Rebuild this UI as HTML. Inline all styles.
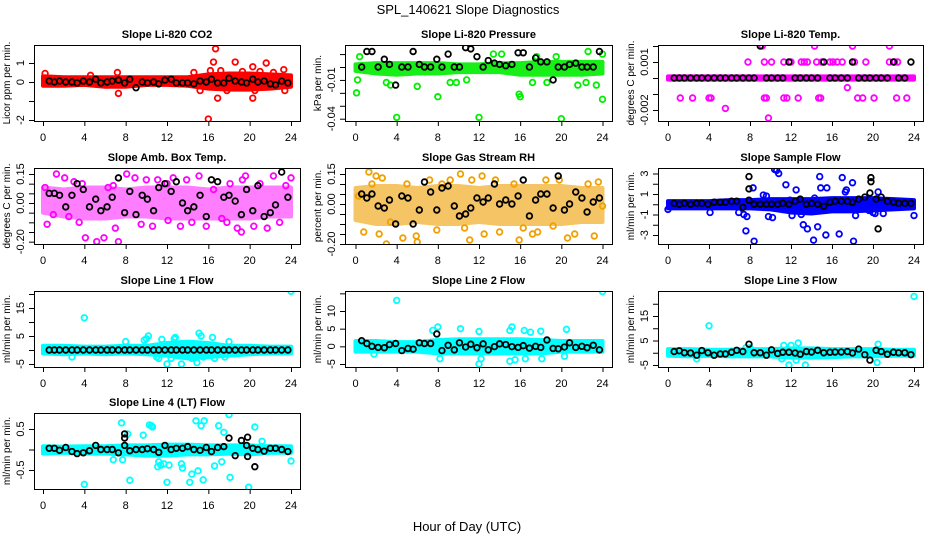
<!DOCTYPE html>
<html><head><meta charset="utf-8"><style>
html,body{margin:0;padding:0;background:#fff;}
svg{display:block;font-family:"Liberation Sans",Arial,sans-serif;}
</style></head>
<body>
<svg id="chart" width="936" height="540" viewBox="0 0 936 540" xmlns="http://www.w3.org/2000/svg">
<rect width="936" height="540" fill="#fff"/>
<text x="468" y="14" text-anchor="middle" font-size="13">SPL_140621  Slope Diagnostics</text>
<text x="467" y="531" text-anchor="middle" font-size="13">Hour of Day (UTC)</text>
<g id="panels"></g>
</svg>
<script>
const bandHours = [0,2,4,6,8,10,12,14,16,18,20,22,24];
const sampleHours = [0.6,1.1,1.6,2.2,2.8,3.3,3.9,4.5,5.1,5.6,6.2,6.7,7.3,7.9,8.4,9.0,9.6,10.1,10.7,11.2,11.8,12.4,12.9,13.5,14.0,14.6,15.2,15.8,16.3,16.9,17.5,18.0,18.6,19.2,19.7,20.3,20.8,21.4,22.0,22.5,23.1,23.7];
const xTicks = [0,4,8,12,16,20,24];

// CO2
const co2BandHi = [0.3,0.25,0.25,0.25,0.25,0.25,0.25,0.25,0.4,0.45,0.45,0.4,0.35];
const co2BandLo = [-0.2,-0.2,-0.15,-0.25,-0.25,-0.15,-0.15,-0.2,-0.35,-0.4,-0.4,-0.35,-0.25];
const co2OutX = [16.7,16.5,18.6,21.6,16.9,16.0,20.3,7.3,20.5,17.8,23.4,15.2,4.6,20.3,23.3,16.2,17.2,0.2,7.2,14.6,19.3,21.0,22.3];
const co2OutY = [1.75,1.05,1.05,1.0,-0.85,-1.95,-0.85,-0.6,-0.45,-0.45,-0.45,-0.45,0.35,0.8,0.65,0.6,0.6,0.45,0.5,0.5,0.55,0.55,0.5];
const co2Black = [0.05,0.0,0.05,0.0,0.0,-0.05,0.05,0.0,0.15,-0.05,0.0,0.05,0.1,-0.05,0.15,-0.3,0.0,-0.05,0.0,-0.1,0.1,0.15,-0.05,-0.05,-0.05,-0.1,0.05,0.0,0.15,-0.05,-0.05,0.2,0.05,0.0,-0.05,0.15,0.0,0.05,-0.1,-0.15,0.05,-0.05];

// Pressure
const presBandHi = [0.002,0.003,0.003,0.003,0.003,0.002,0.002,0.003,0.003,0.004,0.004,0.004,0.004];
const presBandLo = [-0.003,-0.005,-0.006,-0.005,-0.005,-0.004,-0.004,-0.004,-0.006,-0.006,-0.006,-0.006,-0.005];
const presOutX = [0.1,0.2,0.4,4.0,12.0,20.0,8.0,15.9,16.0,24.0,6.0,21.6,23.4,22.4,13.4,14.2,22.6,3.0,3.4,9.2,9.8,10.8,17.2,18.6,19.5,17.6,24.0];
const presOutY = [-0.02,-0.01,0.008,-0.039,-0.039,-0.04,-0.023,-0.021,-0.023,-0.025,-0.015,-0.014,-0.014,-0.012,0.010,0.010,0.012,-0.012,-0.014,-0.012,-0.012,-0.010,-0.012,-0.012,0.008,0.008,0.01];
const presBlack = [0,0.012,0.012,0,0.006,0.002,-0.014,0,0,0.012,0.002,0,0,0.006,0,0.010,0,0,0.015,0.014,0.008,0,0.005,0.003,0.002,0.001,0.002,0.011,0.011,0,0.007,0.004,0.004,-0.010,0,0,0.002,0.003,0,0,0,0.012];

// Li-820 Temp
const tempBandHi = [0.0001,0.0001,0.0001,0.0001,0.0001,0.0001,0.0001,0.0001,0.0001,0.0001,0.0001,0.0001,0.0001];
const tempBandLo = [-0.0001,-0.0001,-0.0001,-0.0001,-0.0001,-0.0001,-0.0001,-0.0001,-0.0001,-0.0001,-0.0001,-0.0001,-0.0001];
const tempOutX = [9.2,14.3,18.0,21.6,7.8,9.4,10.1,11.3,12.0,13.0,13.3,13.6,14.5,15.0,15.8,16.1,16.5,17.0,18.2,19.3,21.6,22.1,22.4,17.5,1.2,2.4,4.0,4.2,9.4,9.6,11.3,11.6,12.7,14.7,14.9,18.5,19.0,20.1,22.3,23.3,5.6,9.8];
const tempOutY = [0.002,0.002,0.002,0.002,0.001,0.001,0.001,0.001,0.001,0.001,0.001,0.001,0.001,0.001,0.001,0.001,0.001,0.001,0.001,0.001,0.001,0.001,0.001,-0.0006,-0.00125,-0.00125,-0.00125,-0.00125,-0.00125,-0.00125,-0.00125,-0.00125,-0.00125,-0.00125,-0.00125,-0.00125,-0.00125,-0.00125,-0.00125,-0.00125,-0.0019,-0.0025];
const tempBlack = [0,0,0,0,0,0,0,0,0,0,0,0,0,0,0,0.002,0,0,0,0,0.001,0,0,0,0,0,0.001,0,0,0,0,0.001,0,0,0,0,0,0,0.001,0,0,0.001];

// Amb box temp
const ambBandHi = [0.08,0.07,0.08,0.08,0.07,0.08,0.08,0.08,0.07,0.08,0.08,0.08,0.08];
const ambBandLo = [-0.05,-0.07,-0.08,-0.08,-0.07,-0.07,-0.08,-0.08,-0.08,-0.08,-0.08,-0.07,-0.07];
const ambOutX = [0.2,0.4,1.3,2.1,2.5,3.0,3.5,3.8,4.1,5.2,5.9,6.3,7.0,7.3,8.1,8.9,9.5,10.0,10.6,11.1,12.1,12.6,13.3,13.9,14.4,15.1,15.8,16.5,17.3,18.1,18.8,19.2,19.6,20.4,21.0,21.7,22.3,22.9,23.5,24.0,1.0,6.8,12.0,17.8,19.3];
const ambOutY = [0.08,-0.11,0.15,0.13,-0.07,0.11,-0.10,0.10,-0.18,-0.2,-0.18,0.08,-0.13,-0.20,0.15,0.13,-0.11,0.12,-0.12,0.12,-0.09,0.13,-0.12,0.12,-0.10,0.14,-0.12,0.07,-0.08,0.10,-0.13,-0.15,0.14,-0.12,0.10,-0.13,0.14,-0.10,0.09,0.13,-0.06,0.09,0.10,-0.10,0.12];
const ambBlack = [0.05,0.05,0.04,-0.02,0.04,0.10,0.07,-0.02,0.02,-0.04,-0.02,0.03,0.13,-0.05,0.06,-0.06,0.04,0.02,-0.04,0.08,0.10,0.06,0.11,0.0,-0.04,-0.02,0.04,-0.07,0.12,0.11,0.03,0.04,0.01,-0.06,0.07,-0.04,0.09,-0.07,-0.05,-0.01,0.16,0.03];

// Gas stream RH
const rhBandHi = [0.08,0.09,0.09,0.08,0.09,0.09,0.08,0.09,0.09,0.09,0.09,0.08,0.08];
const rhBandLo = [-0.08,-0.1,-0.1,-0.09,-0.1,-0.1,-0.09,-0.1,-0.1,-0.1,-0.1,-0.09,-0.09];
const rhOutX = [0.3,0.8,1.3,1.6,2.0,2.3,2.6,3.0,3.4,4.6,5.0,5.9,6.0,7.2,7.9,8.4,9.2,10.2,10.6,11.1,11.3,12.3,12.5,13.6,14.0,15.4,15.9,16.3,17.2,17.7,18.5,19.2,19.8,20.6,21.3,22.6,23.2,23.6,24.0];
const rhOutY = [0.04,-0.14,0.16,0.10,0.14,-0.15,0.13,-0.20,-0.09,-0.17,0.10,-0.16,-0.19,0.12,-0.13,0.10,0.12,0.15,-0.12,-0.18,0.12,0.14,-0.15,0.12,-0.14,0.10,-0.18,-0.12,-0.15,-0.14,0.12,-0.11,0.12,-0.17,-0.15,0.10,-0.16,0.11,-0.01];
const rhBlack = [0.05,0.03,0.05,-0.01,-0.02,0.02,-0.10,0.04,0.03,-0.10,-0.03,0.11,0.06,-0.03,0.08,0.09,-0.01,-0.06,-0.05,-0.02,0.03,0.01,0.03,0.1,0.0,0.02,0.0,0.04,0.12,-0.06,0.02,0.05,0.05,-0.02,0.14,-0.03,0.0,0.06,0.03,-0.04,0.01,0.03];

// Sample flow
const sfBandHi = [0.3,0.3,0.3,0.4,0.4,0.5,0.5,0.5,0.6,0.6,0.6,0.5,0.4];
const sfBandLo = [-0.4,-0.4,-0.4,-0.4,-0.4,-0.5,-0.8,-0.9,-0.7,-0.7,-0.6,-0.5,-0.4];
const sfOutX = [7.6,7.7,8.3,8.4,9.3,9.6,10.4,10.6,10.8,11.2,11.4,11.5,11.9,12.5,13.0,13.2,13.6,14.2,14.3,14.6,14.8,14.9,15.4,15.5,15.9,16.7,17.0,17.3,17.4,18.0,18.1,18.3,19.6,20.0,20.2,20.5,21.0,24.0,0.0,4.1,6.9,7.4,9.8,10.2,12.1];
const sfOutY = [-2.6,-1.2,1.6,-3.6,0.9,0.8,3.4,3.3,3.0,-0.5,-0.4,1.9,0.4,1.4,-1.0,-2.0,-2.4,-3.5,0.6,-2.2,2.7,1.6,-3.0,1.6,-0.5,-2.9,2.6,1.2,1.4,2.1,-3.6,-1.1,-0.6,-0.8,-0.9,1.2,-0.9,-1.1,-0.5,-0.8,-0.8,-1.0,-1.2,-1.3,-1.1];
const sfBlack = [0.1,0.0,0.1,0.0,0.1,0.1,0.0,0.2,0.2,0.2,0.3,0.3,-0.3,0.4,0.0,0.0,0.0,0.0,0.0,0.1,0.0,0.3,0.5,0.0,0.1,0.0,-0.2,0.2,0.3,0.3,0.3,0.2,0.5,0.7,1.1,0.5,0.7,0.3,0.2,0.1,0.1,0.1];
const sfBlackExX = [7.9,7.9,19.8,19.8,20.5];
const sfBlackExY = [2.7,1.5,2.6,2.2,-2.4];

// Line 1
const l1BandHi = [1.5,1.5,1.2,1.2,1.5,1.5,2.5,3,2.5,1.5,1.5,1.2,1.2];
const l1BandLo = [-1.2,-1.5,-1.2,-1.5,-1.2,-1.5,-2.0,-3,-2.5,-2,-1.5,-1.2,-1.2];
const l1OutX = [24.0,4.0,15.1,15.3,10.2,10.0,9.8,12.8,11.5,8.0,16.4,12.0,13.4,14.9,11.2,11.0,12.4,14.4,16.6,2.8,17.6,13.1,15.5,18.0,12.7];
const l1OutY = [21,11.5,6,5,5,4,3.5,4.5,3.8,3,4.5,-5,-5,-4.5,-3,-2.5,-3,-3,-3,-2.5,-2.5,-2,-2.5,3,4];
const l1Black = [0,0,0,0,0,0,0,0,0,0,0,0,0,0,0,0,0,0,0,0,0,0,0,0,0,0,0,0,0,0,0,0,0,0,0,0,0,0,0,0,0,0];

// Line 2
const l2BandHi = [1.5,1.5,1.2,1.2,1.8,2.0,2.0,2,2,1.8,1.5,1.5,1.5];
const l2BandLo = [-1.5,-1.5,-1.5,-1.5,-2,-2,-2,-2,-2,-2,-1.5,-1.5,-1.5];
const l2OutX = [24.0,4.0,8.0,7.5,10.2,12.0,15.2,15.0,16.4,17.0,18.0,20.5,8.2,12.2,12.0,15.0,15.5,18.1,16.5,1.8,20.3];
const l2OutY = [15.5,13,5.5,4.5,5,4.2,5.5,4.5,4.5,4,4.3,4.8,-3.5,-3.5,-5,-4.2,-3.8,-3.5,-3.5,-2.2,-2.8];
const l2Black = [1.6,0.8,0,-0.3,-0.4,0.5,0.8,-1.2,-0.6,-0.8,1.0,0.8,0.8,3.5,-1.2,0.3,-1.0,1.0,-0.2,0.6,-0.4,0.7,-1.0,-0.1,0.7,0.5,-0.1,-0.3,0.2,-0.5,0.0,-0.3,1.8,-0.6,-0.7,-0.2,1.0,-0.3,0.0,-0.4,0.3,-1.0];

// Line 3
const l3BandHi = [1.5,1.5,1.2,1.2,1.5,1.5,1.8,1.8,1.5,1.5,1.5,1.2,1.2];
const l3BandLo = [-1.2,-1.5,-1.2,-1.5,-1.5,-1.5,-2.0,-2,-1.8,-1.5,-1.5,-1.2,-1.2];
const l3OutX = [24.0,4.0,20.5,12.7,11.3,12.0,8.0,20.4,11.8,13.4,2.8,11.1,12.5,7.6];
const l3OutY = [23,11,3.5,4,3,3,2,-4,-5,-5,-2.5,-2.5,-3,2];
const l3Black = [0.5,0.8,0,-0.1,-1,0.9,0,-1,-0.5,-0.5,0.2,1.0,0.5,3.5,0,0,-1,1.2,-0.3,0.2,0.2,-0.1,-0.6,0.5,0.3,1.0,0,0.2,0.3,0.3,0.5,-0.1,1.5,-0.8,-3,1,0.5,-0.6,0.2,0,0,-0.8];

// Line 4
const l4BandHi = [0.08,0.07,0.08,0.08,0.1,0.1,0.12,0.12,0.1,0.1,0.1,0.08,0.08];
const l4BandLo = [-0.1,-0.08,-0.1,-0.1,-0.12,-0.15,-0.15,-0.12,-0.12,-0.1,-0.12,-0.08,-0.08];
const l4OutX = [4.0,7.6,7.7,8.4,8.2,9.7,10.3,10.5,10.6,11.2,11.4,11.7,12.0,12.2,13.4,13.5,14.2,14.4,14.8,15.0,15.3,15.5,15.6,16.6,17.0,17.3,17.5,18.0,18.1,19.9,20.5,24.0,6.8,11.1,21.2];
const l4OutY = [-0.85,0.65,-0.25,-0.75,0.38,0.35,0.6,0.58,0.55,-0.3,-0.38,-0.35,-0.8,-0.38,-0.35,-0.45,-0.8,-0.6,0.7,-0.52,0.58,-0.74,0.7,-0.4,0.58,-0.3,0.42,0.85,-0.68,-0.92,0.55,-0.28,-0.25,-0.42,0.2];
const l4Black = [0.03,0.03,-0.02,0.05,-0.05,-0.1,-0.08,-0.03,0.1,0.0,0.0,0.0,-0.08,0.1,-0.03,0.0,0.0,0.02,0.0,-0.07,0.1,0.0,0.03,0.03,0.07,0.0,-0.02,0.05,-0.05,0.05,0.07,0.28,-0.15,0.22,0.1,0.03,0.0,-0.04,0.03,0.03,0.0,-0.05];
const l4BlackExX = [7.9,7.9,20.5,19.8,19.8];
const l4BlackExY = [0.38,0.28,-0.42,-0.17,0.3];

const NS = 'http://www.w3.org/2000/svg';
const COLS = [{x0:34,x1:300,t0:43,t24:291},{x0:345,x1:612,t0:355.5,t24:602.5},{x0:658,x1:923,t0:668,t24:914}];
const ROWS = [{y0:45,y1:121},{y0:168,y1:244},{y0:291,y1:367},{y0:413,y1:489}];

const panels = [
 {id:'co2',title:'Slope Li-820 CO2',ylab:'Licor ppm per min.',c:0,r:0,color:'#ff0000',op:1,yA:[0,82],yB:[1,63],ticks:[-2,-1,0,1],labels:{'-2':'-2','0':'0','1':'1'},hi:co2BandHi,lo:co2BandLo,ox:co2OutX,oy:co2OutY,bk:co2Black},
 {id:'pressure',title:'Slope Li-820 Pressure',ylab:'kPa per min.',c:1,r:0,color:'#00ee00',op:0.9,yA:[0,67],yB:[-0.04,118.7],ticks:[0.01,0,-0.01,-0.02,-0.03,-0.04],labels:{'-0.01':'-0.01','-0.04':'-0.04'},hi:presBandHi,lo:presBandLo,ox:presOutX,oy:presOutY,bk:presBlack},
 {id:'li820-temp',title:'Slope Li-820 Temp.',ylab:'degrees C per min.',c:2,r:0,color:'#ff00ff',op:1,yA:[0,78],yB:[0.001,62],ticks:[0.002,0.001,0,-0.001,-0.002],labels:{'0.001':'0.001','-0.002':'-0.002'},hi:tempBandHi,lo:tempBandLo,ox:tempOutX,oy:tempOutY,bk:tempBlack},
 {id:'amb-box-temp',title:'Slope Amb. Box Temp.',ylab:'degrees C per min.',c:0,r:1,color:'#ff00ff',op:0.5,yA:[0,203],yB:[0.15,174],ticks:[0.15,0.1,0.05,0,-0.05,-0.1,-0.15,-0.2],labels:{'0.15':'0.15','0':'0.00','-0.2':'-0.20'},hi:ambBandHi,lo:ambBandLo,ox:ambOutX,oy:ambOutY,bk:ambBlack},
 {id:'gas-stream-rh',title:'Slope Gas Stream RH',ylab:'percent per min.',c:1,r:1,color:'#f0a000',op:0.6,yA:[0,204],yB:[0.15,174],ticks:[0.15,0.1,0.05,0,-0.05,-0.1,-0.15,-0.2],labels:{'0.15':'0.15','0':'0.00','-0.2':'-0.20'},hi:rhBandHi,lo:rhBandLo,ox:rhOutX,oy:rhOutY,bk:rhBlack},
 {id:'sample-flow',title:'Slope Sample Flow',ylab:'ml/min per min.',c:2,r:1,color:'#0000ff',op:1,yA:[1,194],yB:[-3,235],ticks:[3,2,1,0,-1,-2,-3],labels:{'3':'3','1':'1','-1':'-1','-3':'-3'},hi:sfBandHi,lo:sfBandLo,ox:sfOutX,oy:sfOutY,bk:sfBlack,bx:sfBlackExX,by:sfBlackExY},
 {id:'line1-flow',title:'Slope Line 1 Flow',ylab:'ml/min per min.',c:0,r:2,color:'#00ffff',op:1,yA:[5,336],yB:[-5,364],ticks:[20,15,10,5,0,-5],labels:{'15':'15','5':'5','-5':'-5'},hi:l1BandHi,lo:l1BandLo,ox:l1OutX,oy:l1OutY,bk:l1Black},
 {id:'line2-flow',title:'Slope Line 2 Flow',ylab:'ml/min per min.',c:1,r:2,color:'#00ffff',op:1,yA:[10,311],yB:[-5,364],ticks:[15,10,5,0,-5],labels:{'10':'10','5':'5','0':'0','-5':'-5'},hi:l2BandHi,lo:l2BandLo,ox:l2OutX,oy:l2OutY,bk:l2Black},
 {id:'line3-flow',title:'Slope Line 3 Flow',ylab:'ml/min per min.',c:2,r:2,color:'#00ffff',op:1,yA:[15,316],yB:[-5,365],ticks:[20,15,10,5,0,-5],labels:{'15':'15','5':'5','-5':'-5'},hi:l3BandHi,lo:l3BandLo,ox:l3OutX,oy:l3OutY,bk:l3Black},
 {id:'line4-flow',title:'Slope Line 4 (LT) Flow',ylab:'ml/min per min.',c:0,r:3,color:'#00ffff',op:1,yA:[0.5,429],yB:[-0.5,470],ticks:[0.5,0,-0.5],labels:{'0.5':'0.5','-0.5':'-0.5'},hi:l4BandHi,lo:l4BandLo,ox:l4OutX,oy:l4OutY,bk:l4Black,bx:l4BlackExX,by:l4BlackExY}
];

function mk(tag, attrs, parent){
  const e = document.createElementNS(NS, tag);
  for (const k in attrs) e.setAttribute(k, attrs[k]);
  parent.appendChild(e);
  return e;
}

const root = document.getElementById('panels');
panels.forEach(p => {
  const C = COLS[p.c], R = ROWS[p.r];
  const xs = h => C.t0 + (C.t24 - C.t0) * h / 24;
  const ys = v => p.yA[1] + (v - p.yA[0]) * (p.yB[1] - p.yA[1]) / (p.yB[0] - p.yA[0]);
  const g = mk('g', {}, root);
  
  
  const clipId = 'clip-' + p.id;
  const cp = mk('clipPath', {id: clipId}, g);
  mk('rect', {x: C.x0, y: R.y0, width: C.x1 - C.x0, height: R.y1 - R.y0}, cp);

  const t = mk('text', {x: (C.x0 + C.x1) / 2, y: R.y0 - 7, 'text-anchor': 'middle', 'font-size': 11, 'font-weight': 'bold'}, g);
  t.textContent = p.title;
  
  

  const data = mk('g', {'clip-path': 'url(#' + clipId + ')'}, g);
  let pts = bandHours.map((h, i) => xs(h) + ',' + ys(p.hi[i]));
  pts = pts.concat(bandHours.slice().reverse().map((h, i) => xs(h) + ',' + ys(p.lo[bandHours.length - 1 - i])));
  const band = mk('polygon', {points: pts.join(' '), fill: p.color, stroke: p.color, 'stroke-width': 4, 'stroke-linejoin': 'round', opacity: p.op}, data);
  
  

  p.ox.forEach((h, i) => {
    const c = mk('circle', {cx: xs(h), cy: ys(p.oy[i]), r: 2.8, fill: 'none', stroke: p.color, 'stroke-width': 1.8}, data);
    
    
  });
  sampleHours.forEach((h, i) => {
    const c = mk('circle', {cx: xs(h), cy: ys(p.bk[i]), r: 2.8, fill: 'none', stroke: '#000', 'stroke-width': 1.8}, data);
    
    
  });
  if (p.bx) p.bx.forEach((h, i) => {
    const c = mk('circle', {cx: xs(h), cy: ys(p.by[i]), r: 2.8, fill: 'none', stroke: '#000', 'stroke-width': 1.8}, data);
    
    
  });

  const box = mk('rect', {x: C.x0 + 0.5, y: R.y0 + 0.5, width: C.x1 - C.x0, height: R.y1 - R.y0, fill: 'none', stroke: '#000', 'stroke-width': 1}, g);
  
  

  const xa = mk('g', {}, g);
  
  
  mk('line', {x1: xs(0), x2: xs(24), y1: R.y1 + 0.5, y2: R.y1 + 0.5, stroke: '#000'}, xa);
  xTicks.forEach(v => {
    mk('line', {x1: xs(v) + 0.5, x2: xs(v) + 0.5, y1: R.y1, y2: R.y1 + 5, stroke: '#000'}, xa);
    const tl = mk('text', {x: xs(v), y: R.y1 + 20, 'text-anchor': 'middle', 'font-size': 11}, xa);
    tl.textContent = v;
  });
  const ya = mk('g', {}, g);
  
  
  const tv = p.ticks.map(ys);
  mk('line', {x1: C.x0 + 0.5, x2: C.x0 + 0.5, y1: Math.min(...tv), y2: Math.max(...tv), stroke: '#000'}, ya);
  p.ticks.forEach(v => {
    const y = ys(v);
    mk('line', {x1: C.x0 - 5, x2: C.x0, y1: y + 0.5, y2: y + 0.5, stroke: '#000'}, ya);
    const key = String(v);
    if (p.labels[key] !== undefined) {
      const tl = mk('text', {x: C.x0 - 10, y: y, 'text-anchor': 'middle', 'font-size': 11, transform: 'rotate(-90 ' + (C.x0 - 10) + ' ' + y + ')'}, ya);
      tl.textContent = p.labels[key];
    }
  });
  const yt = mk('text', {x: C.x0 - 24, y: (R.y0 + R.y1) / 2, 'text-anchor': 'middle', 'font-size': 10, transform: 'rotate(-90 ' + (C.x0 - 24) + ' ' + ((R.y0 + R.y1) / 2) + ')'}, g);
  yt.textContent = p.ylab;
  
  
});
</script>
</body></html>
